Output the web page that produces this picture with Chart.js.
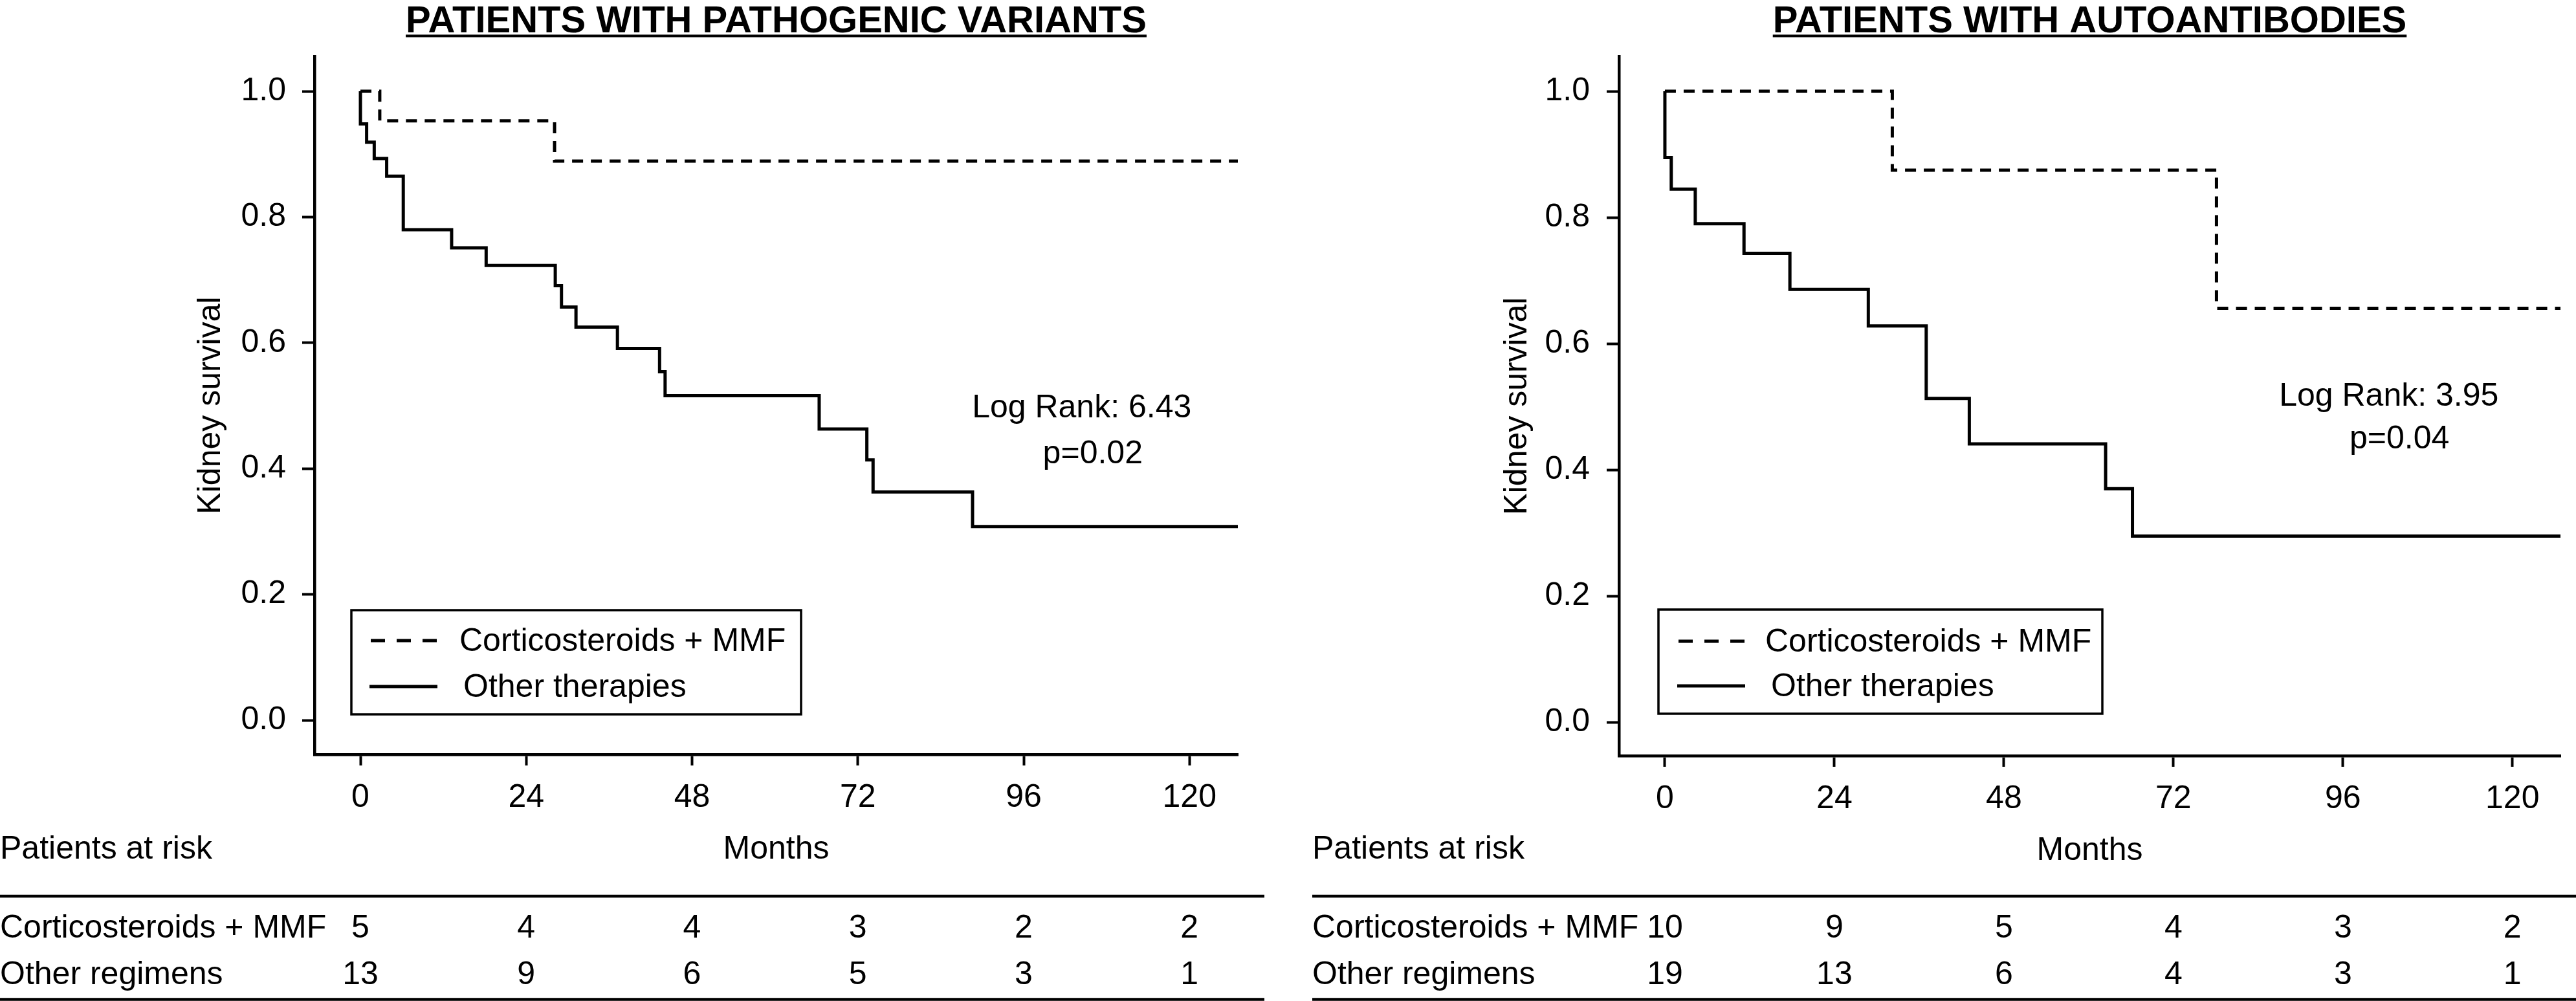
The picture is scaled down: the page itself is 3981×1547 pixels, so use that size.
<!DOCTYPE html>
<html>
<head>
<meta charset="utf-8">
<title>Kidney survival by treatment</title>
<script src="https://cdn.jsdelivr.net/npm/chart.js@4.4.1/dist/chart.umd.min.js"></script>
<style>
    html, body { margin: 0; padding: 0; background: #fff; }
    body { width: 3981px; height: 1547px; position: relative; overflow: hidden; }
    canvas { position: absolute; top: 0; }
    #pvChart { left: 0; }
    #aaChart { left: 1990px; }
</style>
</head>
<body>
<canvas id="pvChart" width="1990" height="1547"></canvas>
<canvas id="aaChart" width="1991" height="1547"></canvas>
<script>
// Shared axis ticks and labels
const monthTicks = [0, 24, 48, 72, 96, 120];
const survivalTicks = [0, 0.2, 0.4, 0.6, 0.8, 1.0];
const groupLabels = ['Corticosteroids + MMF', 'Other therapies'];
const riskRowLabels = ['Corticosteroids + MMF', 'Other regimens'];

// Patients with pathogenic variants
const pvMmfMonths = [0, 2.8, 28.1, 127];
const pvMmfSurvival = [1, 0.953, 0.889, 0.889];
const pvOtherMonths = [0, 0, 0.9, 2.0, 3.8, 6.2, 13.2, 18.2, 28.2, 29.1, 31.2, 37.2, 43.3, 44.1, 66.4, 73.3, 74.2, 88.6, 127];
const pvOtherSurvival = [1, 0.948, 0.919, 0.893, 0.865, 0.780, 0.751, 0.723, 0.691, 0.657, 0.625, 0.591, 0.554, 0.516, 0.463, 0.414, 0.363, 0.308, 0.308];
const pvRiskMmf = [5, 4, 4, 3, 2, 2];
const pvRiskOther = [13, 9, 6, 5, 3, 1];

// Patients with autoantibodies
const aaMmfMonths = [0, 32.2, 78.1, 126.8];
const aaMmfSurvival = [1, 0.875, 0.656, 0.656];
const aaOtherMonths = [0, 0, 0.9, 4.3, 11.2, 17.7, 28.8, 37.0, 43.1, 62.4, 66.2, 126.8];
const aaOtherSurvival = [1, 0.895, 0.845, 0.790, 0.743, 0.686, 0.628, 0.513, 0.441, 0.370, 0.295, 0.295];
const aaRiskMmf = [10, 9, 5, 4, 3, 2];
const aaRiskOther = [19, 13, 6, 4, 3, 1];

const FONT = '"Liberation Sans", Arial, Helvetica, sans-serif';

function toPoints(months, surv) {
    return months.map((m, i) => ({ x: m, y: surv[i] }));
}

// Draws title, legend box, log rank note and the patients-at-risk table
function makeExtras(cfg) {
    return {
        id: 'kmExtras',
        afterDraw(chart) {
            const { ctx, chartArea, scales } = chart;
            const xs = scales.x, ys = scales.y;
            ctx.save();
            ctx.fillStyle = '#000';
            ctx.strokeStyle = '#000';
            ctx.setLineDash([]);

            // underlined title
            ctx.font = 'bold 58px ' + FONT;
            ctx.textAlign = 'center';
            ctx.textBaseline = 'alphabetic';
            const cx = (chartArea.left + chartArea.right) / 2;
            ctx.fillText(cfg.title, cx, 50);
            const tw = ctx.measureText(cfg.title).width;
            ctx.lineWidth = 4;
            ctx.beginPath();
            ctx.moveTo(cx - tw / 2, 55.5);
            ctx.lineTo(cx + tw / 2, 55.5);
            ctx.stroke();

            // legend box
            const lb = cfg.legend;
            ctx.lineWidth = 3.5;
            ctx.strokeRect(lb.x, lb.y, lb.w, lb.h);
            ctx.font = '50px ' + FONT;
            ctx.textAlign = 'left';
            ctx.textBaseline = 'middle';
            chart.data.datasets.forEach((ds, i) => {
                const ry = lb.y + lb.rows[i];
                ctx.lineWidth = ds.borderWidth;
                ctx.setLineDash(i === 0 ? [22, 18] : []);
                ctx.beginPath();
                ctx.moveTo(lb.x + lb.sample[i][0], ry);
                ctx.lineTo(lb.x + lb.sample[i][1], ry);
                ctx.stroke();
                ctx.setLineDash([]);
                ctx.fillText(ds.label, lb.x + lb.textX[i], ry + 2);
            });

            // log rank note
            ctx.textAlign = 'center';
            cfg.notes.forEach(n => {
                ctx.fillText(n.text, xs.getPixelForValue(n.x), ys.getPixelForValue(n.y) + 2);
            });

            // patients at risk table
            const t = cfg.table;
            ctx.textBaseline = 'alphabetic';
            ctx.textAlign = 'left';
            ctx.fillText('Patients at risk', t.left, 1327);
            ctx.lineWidth = 4.5;
            ctx.beginPath();
            ctx.moveTo(t.left, 1385);
            ctx.lineTo(t.right, 1385);
            ctx.moveTo(t.left, 1544.5);
            ctx.lineTo(t.right, 1544.5);
            ctx.stroke();
            const baselines = [1449, 1521];
            cfg.risk.forEach((row, i) => {
                ctx.textAlign = 'left';
                ctx.fillText(riskRowLabels[i], t.left, baselines[i]);
                ctx.textAlign = 'center';
                monthTicks.forEach((m, j) => {
                    ctx.fillText(String(row[j]), xs.getPixelForValue(m), baselines[i]);
                });
            });
            ctx.restore();
        }
    };
}

function kmChart(canvasId, cfg) {
    const ctx = document.getElementById(canvasId).getContext('2d');
    const lineBase = {
        borderColor: '#000',
        borderWidth: 5,
        stepped: 'before',
        pointRadius: 0,
        fill: false,
        borderJoinStyle: 'miter',
        borderCapStyle: 'butt'
    };
    return new Chart(ctx, {
        type: 'line',
        data: {
            datasets: [
                Object.assign({ label: groupLabels[0], data: toPoints(cfg.mmfMonths, cfg.mmfSurvival), borderDash: [17, 12] }, lineBase),
                Object.assign({ label: groupLabels[1], data: toPoints(cfg.otherMonths, cfg.otherSurvival) }, lineBase)
            ]
        },
        options: {
            responsive: false,
            maintainAspectRatio: false,
            animation: false,
            devicePixelRatio: 1,
            layout: { padding: cfg.padding },
            plugins: {
                legend: { display: false },
                tooltip: { enabled: false },
                title: { display: false }
            },
            scales: {
                x: {
                    type: 'linear',
                    min: cfg.xMin,
                    max: cfg.xMax,
                    afterFit: s => { s.height = 177; },
                    afterBuildTicks: s => { s.ticks = monthTicks.map(v => ({ value: v })); },
                    grid: { drawOnChartArea: false, drawTicks: true, tickLength: 17, tickWidth: 4, tickColor: '#000' },
                    border: { display: true, color: '#000', width: 4.5 },
                    ticks: {
                        color: '#000',
                        padding: 20,
                        maxRotation: 0,
                        font: { family: FONT, size: 50 },
                        callback: v => String(v)
                    },
                    title: {
                        display: true,
                        text: 'Months',
                        color: '#000',
                        padding: { top: 0, bottom: 0 },
                        font: { family: FONT, size: 50 }
                    }
                },
                y: {
                    type: 'linear',
                    min: cfg.yMin,
                    max: cfg.yMax,
                    afterFit: s => { s.width = 200; },
                    afterBuildTicks: s => { s.ticks = survivalTicks.map(v => ({ value: v })); },
                    grid: { drawOnChartArea: false, drawTicks: true, tickLength: 19, tickWidth: 4, tickColor: '#000' },
                    border: { display: true, color: '#000', width: 4.5 },
                    ticks: {
                        color: '#000',
                        padding: cfg.yTickPad,
                        font: { family: FONT, size: 50 },
                        callback: v => v.toFixed(1)
                    },
                    title: {
                        display: true,
                        text: 'Kidney survival',
                        color: '#000',
                        padding: { top: cfg.yTitlePad, bottom: 0 },
                        font: { family: FONT, size: 50 }
                    }
                }
            }
        },
        plugins: [makeExtras(cfg)]
    });
}

kmChart('pvChart', {
    mmfMonths: pvMmfMonths, mmfSurvival: pvMmfSurvival,
    otherMonths: pvOtherMonths, otherSurvival: pvOtherSurvival,
    risk: [pvRiskMmf, pvRiskOther],
    xMin: -6.65, xMax: 127, yMin: -0.0545, yMax: 1.0556,
    padding: { left: 286, right: 77, top: 87, bottom: 204 },
    yTickPad: 25, yTitlePad: 10,
    title: 'PATIENTS WITH PATHOGENIC VARIANTS',
    legend: { x: 543, y: 943, w: 695, h: 161, rows: [47, 118], sample: [[30, 132], [28, 133]], textX: [167, 173] },
    notes: [
        { text: 'Log Rank: 6.43', x: 104.4, y: 0.498 },
        { text: 'p=0.02', x: 106.0, y: 0.425 }
    ],
    table: { left: 0, right: 1954 }
});

kmChart('aaChart', {
    mmfMonths: aaMmfMonths, mmfSurvival: aaMmfSurvival,
    otherMonths: aaOtherMonths, otherSurvival: aaOtherSurvival,
    risk: [aaRiskMmf, aaRiskOther],
    xMin: -6.5, xMax: 126.8, yMin: -0.0533, yMax: 1.0554,
    padding: { left: 312, right: 24, top: 87, bottom: 202 },
    yTickPad: 26, yTitlePad: 13,
    title: 'PATIENTS WITH AUTOANTIBODIES',
    legend: { x: 573, y: 942, w: 686, h: 161, rows: [49, 118], sample: [[31, 135], [29, 134]], textX: [165, 174] },
    notes: [
        { text: 'Log Rank: 3.95', x: 102.5, y: 0.518 },
        { text: 'p=0.04', x: 104.0, y: 0.450 }
    ],
    table: { left: 38, right: 1991 }
});
</script>
</body>
</html>
